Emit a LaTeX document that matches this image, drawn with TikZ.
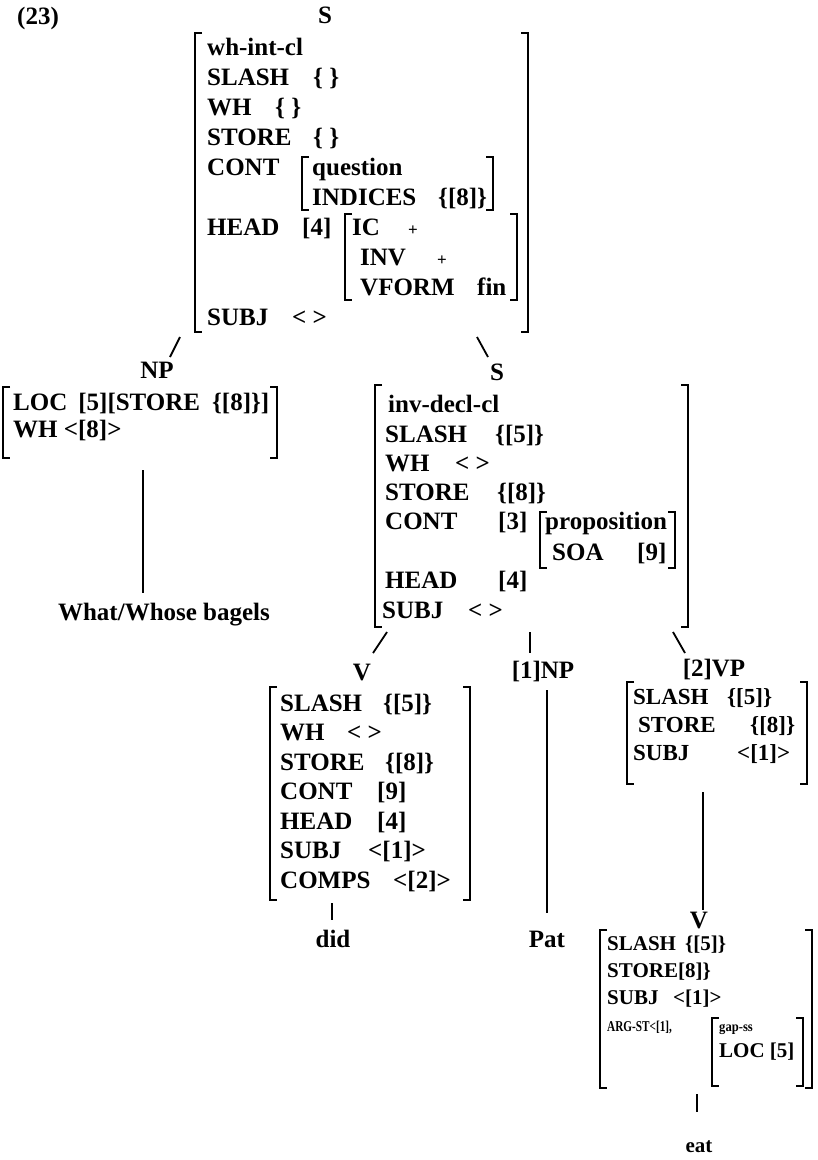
\documentclass[tikz,border=0pt]{standalone}
\usepackage{fontspec}
\setmainfont{Liberation Serif}
\usepackage{graphicx}

\newcommand\avmfont{\bfseries\fontsize{25}{30}\selectfont}
\newcommand\vpfont{\bfseries\fontsize{23}{28}\selectfont}
\newcommand\lowfont{\bfseries\fontsize{21}{25}\selectfont}
\newcommand\plus{{\fontsize{17}{20}\selectfont +}}
% feature name in a box of given width, then its value
\newcommand\fv[3]{\makebox[#2][l]{#1}#3}
% square brackets round an AVM: left x, right x, top y, bottom y
\newcommand\brackets[4]{%
  \draw[brk] (#1+7,#3) -| (#1,#4) -- ++(7,0);
  \draw[brk] (#2-7,#3) -| (#2,#4) -- ++(-7,0);}

\tikzset{
  row/.style={anchor=base west, inner sep=0pt},
  cat/.style={anchor=base, inner sep=0pt},
  brk/.style={line width=2pt},
  branch/.style={line width=1.8pt},
}

\begin{document}
\begin{tikzpicture}[x=1pt, y=-1pt, font=\avmfont]
  \useasboundingbox (0,0) rectangle (818,1160);
  \node[row] (exnum) at (17,24) {(23)};

  % root S
  \node[cat] (s-top) at (325,23) {S};
  \brackets{195}{528}{33}{332}
  \node[row] (top-type) at (207,55) {wh-int-cl};
  \node[row] (top-slash) at (207,85) {\fv{SLASH}{106pt}{\{~\}}};
  \node[row] (top-wh) at (207,115) {\fv{WH}{68pt}{\{~\}}};
  \node[row] (top-store) at (207,145) {\fv{STORE}{106pt}{\{~\}}};
  \node[row] (top-cont) at (207,175) {CONT};
  \node[row] (top-head) at (207,235) {\fv{HEAD}{95pt}{[4]}};
  \node[row] (top-subj) at (207,325) {\fv{SUBJ}{85pt}{<~>}};
  % CONT value
  \brackets{302}{493}{157}{210}
  \node[row] (q-type) at (312,175) {question};
  \node[row] (q-ind) at (312,205) {\fv{INDICES}{126pt}{\{[8]\}}};
  % HEAD value
  \brackets{345}{517}{214}{300}
  \node[row] (hd-ic) at (352,235) {\fv{IC}{56pt}{\plus}};
  \node[row] (hd-inv) at (360,265) {\fv{INV}{77pt}{\plus}};
  \node[row] (hd-vform) at (360,295) {\fv{VFORM}{117pt}{fin}};
  % branches below root
  \coordinate (top-foot-l) at (180,337);
  \draw[branch] (top-foot-l) -- ++(-10,20);
  \coordinate (top-foot-r) at (477,337);
  \draw[branch] (top-foot-r) -- ++(11,20);

  % filler NP
  \node[cat] (np) at (157,378) {NP};
  \brackets{3}{277}{387}{458}
  \node[row] (np-loc) at (13,410) {LOC\hspace{11pt}[5][STORE\hspace{12pt}\{[8]\}]};
  \node[row] (np-wh) at (13,437) {WH <[8]>};
  \coordinate (np-foot) at (143,470);
  \draw[branch] (np-foot) -- ++(0,123);
  \node[cat] (what) at (164,620) {What/Whose bagels};

  % head daughter S
  \node[cat] (s-mid) at (497,380) {S};
  \brackets{375}{688}{385}{627}
  \node[row] (mid-type) at (388,412) {inv-decl-cl};
  \node[row] (mid-slash) at (385,442) {\fv{SLASH}{110pt}{\{[5]\}}};
  \node[row] (mid-wh) at (385,471) {\fv{WH}{70pt}{<~>}};
  \node[row] (mid-store) at (385,500) {\fv{STORE}{112pt}{\{[8]\}}};
  \node[row] (mid-cont) at (385,529) {\fv{CONT}{113pt}{[3]}};
  \node[row] (mid-head) at (385,588) {\fv{HEAD}{113pt}{[4]}};
  \node[row] (mid-subj) at (382,618) {\fv{SUBJ}{86pt}{<~>}};
  % CONT value
  \brackets{540}{675}{512}{568}
  \node[row] (prop-type) at (545,529) {proposition};
  \node[row] (prop-soa) at (552,560) {\fv{SOA}{85pt}{[9]}};
  % branches below S
  \coordinate (mid-foot-l) at (387,632);
  \draw[branch] (mid-foot-l) -- ++(-14,21);
  \coordinate (mid-foot-c) at (530,632);
  \draw[branch] (mid-foot-c) -- ++(0,21);
  \coordinate (mid-foot-r) at (673,632);
  \draw[branch] (mid-foot-r) -- ++(12,21);

  % inverted V
  \node[cat] (v) at (362,680) {V};
  \brackets{270}{470}{687}{900}
  \node[row] (v-slash) at (280,711) {\fv{SLASH}{103pt}{\{[5]\}}};
  \node[row] (v-wh) at (280,740) {\fv{WH}{67pt}{<~>}};
  \node[row] (v-store) at (280,770) {\fv{STORE}{105pt}{\{[8]\}}};
  \node[row] (v-cont) at (280,799) {\fv{CONT}{97pt}{[9]}};
  \node[row] (v-head) at (280,829) {\fv{HEAD}{97pt}{[4]}};
  \node[row] (v-subj) at (280,858) {\fv{SUBJ}{88pt}{<[1]>}};
  \node[row] (v-comps) at (280,888) {\fv{COMPS}{113pt}{<[2]>}};
  \coordinate (v-foot) at (332,903);
  \draw[branch] (v-foot) -- ++(0,17);
  \node[cat] (did) at (333,947) {did};

  % subject NP
  \node[cat] (np1) at (543,678) {[1]NP};
  \coordinate (np1-foot) at (547,690);
  \draw[branch] (np1-foot) -- ++(0,223);
  \node[cat] (pat) at (547,947) {Pat};

  % complement VP
  \node[cat] (vp) at (714,676) {[2]VP};
  \begin{scope}[font=\vpfont]
    \brackets{627}{807}{682}{784}
    \node[row] (vp-slash) at (633,704) {\fv{SLASH}{94pt}{\{[5]\}}};
    \node[row] (vp-store) at (638,732) {\fv{STORE}{112pt}{\{[8]\}}};
    \node[row] (vp-subj) at (633,760) {\fv{SUBJ}{104pt}{<[1]>}};
  \end{scope}
  \coordinate (vp-foot) at (703,792);
  \draw[branch] (vp-foot) -- ++(0,118);

  % lower V
  \node[cat] (v-low) at (699,928) {V};
  \begin{scope}[font=\lowfont]
    \brackets{600}{812}{930}{1088}
    \node[row] (low-slash) at (607,950) {\fv{SLASH}{78pt}{\{[5]\}}};
    \node[row] (low-store) at (607,977) {STORE[8]\}};
    \node[row] (low-subj) at (607,1004) {\fv{SUBJ}{66pt}{<[1]>}};
    \node[row] (low-arg) at (607,1031) {\scalebox{0.75}[1]{\fontsize{15}{18}\selectfont ARG-ST<[1],}};
    % gap value
    \brackets{712}{803}{1018}{1086}
    \node[row] (gap-type) at (719,1031) {\scalebox{0.9}[1]{\fontsize{14}{16}\selectfont gap-ss}};
    \node[row] (gap-loc) at (719,1057) {LOC [5]};
    \coordinate (low-foot) at (697,1094);
    \draw[branch] (low-foot) -- ++(0,18);
    \node[cat] (eat) at (699,1152) {eat};
  \end{scope}
\end{tikzpicture}
\end{document}
